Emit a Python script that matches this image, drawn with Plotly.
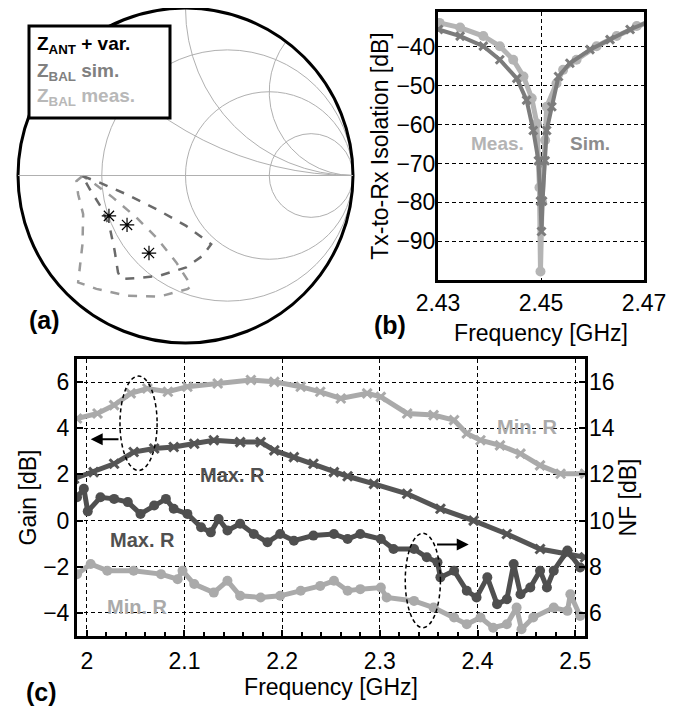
import plotly.graph_objects as go
import numpy as np

# ---------------- (a) Smith chart data (reflection coefficient) -------------
zbal_sim_gre = [-0.615, -0.512, -0.353, -0.155, 0.004, 0.153, 0.103, 0.004, -0.155, -0.274, -0.383, -0.403, -0.423, -0.452, -0.502, -0.571, -0.615]
zbal_sim_gim = [-0.003, -0.043, -0.112, -0.211, -0.301, -0.410, -0.479, -0.549, -0.598, -0.612, -0.618, -0.579, -0.449, -0.311, -0.192, -0.082, -0.003]
zbal_meas_gre = [-0.615, -0.651, -0.641, -0.611, -0.615, -0.641, -0.532, -0.353, -0.155, 0.014, 0.034, -0.055, -0.174, -0.293, -0.433, -0.552, -0.615]
zbal_meas_gim = [-0.003, -0.033, -0.112, -0.231, -0.410, -0.638, -0.677, -0.717, -0.723, -0.677, -0.658, -0.519, -0.370, -0.251, -0.132, -0.043, -0.003]
zant_gre = [-0.457, -0.349, -0.218]
zant_gim = [-0.241, -0.295, -0.463]

smith_r_grid = [1/3, 1, 3]
smith_x_grid = [0.5, 1, 2]

# ---------------- (b) isolation ----------------
meas_f = [2.4303, 2.4343, 2.4388, 2.4420, 2.4446, 2.4466, 2.4482, 2.4492, 2.4497, 2.4499, 2.4502, 2.4508, 2.4511, 2.4530, 2.4543, 2.4569, 2.4608, 2.4647, 2.4686, 2.4712]
meas_iso = [-33.8, -35.0, -37.2, -39.8, -43.3, -47.6, -53.2, -59.7, -76.2, -97.8, -80.0, -64.0, -55.4, -49.4, -45.9, -43.3, -39.8, -37.2, -34.6, -33.3]
sim_f = [2.4301, 2.4343, 2.4388, 2.4420, 2.4453, 2.4472, 2.4485, 2.4495, 2.4499, 2.4501, 2.4503, 2.4508, 2.4511, 2.4521, 2.4534, 2.4556, 2.4595, 2.4634, 2.4673, 2.4712]
sim_iso = [-35.5, -37.2, -39.8, -43.3, -48.1, -53.7, -61.5, -69.3, -79.7, -87.5, -79.7, -69.3, -61.5, -55.4, -47.6, -44.2, -40.7, -38.1, -35.5, -33.3]

# ---------------- (c) gain / NF ----------------
gain_min_f = [1.990, 2.011, 2.028, 2.045, 2.062, 2.083, 2.103, 2.134, 2.168, 2.192, 2.219, 2.239, 2.260, 2.287, 2.301, 2.328, 2.355, 2.376, 2.389, 2.403, 2.423, 2.444, 2.464, 2.485, 2.510]
gain_min = [4.42, 4.64, 5.00, 5.51, 5.72, 5.58, 5.80, 5.94, 6.09, 6.01, 5.80, 5.58, 5.29, 5.51, 5.36, 4.64, 4.57, 4.35, 3.77, 3.48, 3.26, 2.90, 2.39, 2.03, 2.03]
gain_max_f = [1.987, 2.007, 2.028, 2.048, 2.069, 2.089, 2.110, 2.130, 2.157, 2.178, 2.192, 2.212, 2.232, 2.253, 2.267, 2.294, 2.328, 2.362, 2.396, 2.430, 2.464, 2.492, 2.510]
gain_max = [1.81, 2.10, 2.46, 2.97, 3.12, 3.19, 3.33, 3.48, 3.40, 3.40, 3.04, 2.75, 2.46, 2.10, 1.92, 1.59, 1.16, 0.51, 0.00, -0.58, -1.23, -1.45, -1.59]
nf_max_f = [1.990, 1.997, 2.001, 2.014, 2.028, 2.042, 2.055, 2.069, 2.081, 2.089, 2.103, 2.117, 2.127, 2.135, 2.144, 2.157, 2.171, 2.185, 2.198, 2.212, 2.232, 2.253, 2.267, 2.280, 2.301, 2.314, 2.335, 2.348, 2.359, 2.362, 2.376, 2.389, 2.399, 2.410, 2.420, 2.430, 2.437, 2.444, 2.454, 2.464, 2.471, 2.478, 2.492, 2.505]
nf_max = [11.01, 11.38, 10.40, 11.01, 10.94, 10.80, 10.29, 10.65, 10.94, 10.51, 10.29, 9.71, 9.49, 10.07, 9.57, 9.86, 9.42, 9.06, 9.42, 9.13, 9.35, 9.42, 9.20, 9.42, 9.20, 8.77, 8.77, 8.41, 8.19, 7.54, 7.83, 6.96, 6.67, 7.54, 6.38, 6.59, 8.12, 6.81, 7.10, 7.83, 7.10, 7.83, 8.70, 7.97]
nf_min_f = [1.990, 2.004, 2.021, 2.048, 2.076, 2.093, 2.098, 2.110, 2.130, 2.144, 2.157, 2.178, 2.198, 2.219, 2.239, 2.253, 2.267, 2.280, 2.301, 2.307, 2.335, 2.355, 2.376, 2.389, 2.403, 2.416, 2.430, 2.440, 2.445, 2.457, 2.478, 2.492, 2.495, 2.505]
nf_min = [7.68, 8.12, 7.83, 7.83, 7.68, 7.46, 7.83, 7.25, 6.88, 7.39, 6.74, 6.67, 6.74, 6.96, 7.17, 7.39, 6.96, 7.03, 7.10, 6.67, 6.52, 6.23, 5.80, 5.51, 5.80, 5.36, 5.51, 6.23, 5.29, 5.80, 6.23, 6.09, 6.81, 5.87]

freq_ticks = [2.0, 2.1, 2.2, 2.3, 2.4, 2.5]
freq_ticktext = ["2", "2.1", "2.2", "2.3", "2.4", "2.5"]
gain_ticks = [-4, -2, 0, 2, 4, 6]
nf_ticks = [6, 8, 10, 12, 14, 16]
iso_ticks = [-90, -80, -70, -60, -50, -40]
iso_f_ticks = [2.43, 2.45, 2.47]

FONT = "Liberation Sans, Arial, sans-serif"
LIGHT = "#aaaaaa"
DARK = "#4f4f4f"
GRIDDASH = "4px,3px"

# page body has an 8px margin: figure drawn at (8, 8), size 682 x 708
OX, OY, W, H = 8, 8, 682, 708


def fx(px):
    return (px - OX) / W


def fy(py):
    return 1 - (py - OY) / H


def to_z(gre, gim):
    g = np.array(gre) + 1j * np.array(gim)
    z = (1 + g) / (1 - g)
    return z.real, z.imag


fig = go.Figure()

# ---- Smith chart traces
for gre, gim, col in [(zbal_meas_gre, zbal_meas_gim, "#9a9a9a"), (zbal_sim_gre, zbal_sim_gim, "#6a6a6a")]:
    zr, zi = to_z(gre, gim)
    fig.add_trace(go.Scattersmith(real=zr, imag=zi, mode="lines", subplot="smith",
                                  line=dict(color=col, width=2.5, dash="dash"), showlegend=False))
zr, zi = to_z(zant_gre, zant_gim)
fig.add_trace(go.Scattersmith(real=zr, imag=zi, mode="markers", subplot="smith",
                              marker=dict(symbol="asterisk-open", size=12, color="black",
                                          line=dict(color="black", width=1.2)), showlegend=False))

# ---- (b) isolation
fig.add_trace(go.Scatter(x=meas_f, y=meas_iso, mode="lines+markers", xaxis="x", yaxis="y",
                         line=dict(color="#b4b4b4", width=5),
                         marker=dict(symbol="circle", size=10, color="#b4b4b4"), showlegend=False))
fig.add_trace(go.Scatter(x=sim_f, y=sim_iso, mode="lines+markers", xaxis="x", yaxis="y",
                         line=dict(color="#7c7c7c", width=4),
                         marker=dict(symbol="x-thin-open", size=8, color="#7c7c7c",
                                     line=dict(color="#7c7c7c", width=3)), showlegend=False))

# ---- (c) gain / NF
fig.add_trace(go.Scatter(x=gain_min_f, y=gain_min, mode="lines+markers", xaxis="x2", yaxis="y2",
                         line=dict(color=LIGHT, width=5),
                         marker=dict(symbol="x-thin-open", size=9, color=LIGHT,
                                     line=dict(color=LIGHT, width=3)), showlegend=False))
fig.add_trace(go.Scatter(x=gain_max_f, y=gain_max, mode="lines+markers", xaxis="x2", yaxis="y2",
                         line=dict(color="#555555", width=5),
                         marker=dict(symbol="x-thin-open", size=9, color="#555555",
                                     line=dict(color="#555555", width=3)), showlegend=False))
fig.add_trace(go.Scatter(x=nf_max_f, y=nf_max, mode="lines+markers", xaxis="x2", yaxis="y3",
                         line=dict(color=DARK, width=5),
                         marker=dict(symbol="circle", size=10, color=DARK), showlegend=False))
fig.add_trace(go.Scatter(x=nf_min_f, y=nf_min, mode="lines+markers", xaxis="x2", yaxis="y3",
                         line=dict(color=LIGHT, width=5),
                         marker=dict(symbol="circle", size=10, color=LIGHT), showlegend=False))

axis_common = dict(showline=True, linecolor="black", linewidth=3, mirror=True, automargin=False,
                   showgrid=True, gridcolor="black", gridwidth=1, griddash=GRIDDASH,
                   zeroline=False, tickfont=dict(size=23, color="black", family=FONT))

fig.update_layout(
    width=W, height=H, margin=dict(l=0, r=0, t=0, b=0, autoexpand=False),
    paper_bgcolor="white", plot_bgcolor="white",
    font=dict(family=FONT, color="black"),
    smith=dict(
        domain=dict(x=[fx(18), fx(353)], y=[fy(343), 1.0]),
        bgcolor="white",
        realaxis=dict(tickvals=smith_r_grid, showticklabels=False, ticks="",
                      gridcolor="#b0b0b0", gridwidth=1, linecolor="#b0b0b0", linewidth=1),
        imaginaryaxis=dict(tickvals=smith_x_grid, showticklabels=False, ticks="",
                           gridcolor="#b0b0b0", gridwidth=1, linecolor="black", linewidth=3),
    ),
    xaxis=dict(domain=[fx(438), fx(644)], anchor="y", range=[2.43, 2.47],
               tickvals=iso_f_ticks, ticks="", ticklabelstandoff=0,
               title=dict(text="Frequency [GHz]", font=dict(size=23), standoff=11), **axis_common),
    yaxis=dict(domain=[fy(280), fy(12)], anchor="x", range=[-100, -31],
               tickvals=iso_ticks, ticks="", ticklabelstandoff=-5,
               title=dict(text="Tx-to-Rx Isolation [dB]", font=dict(size=23), standoff=2), **axis_common),
    xaxis2=dict(domain=[fx(77), fx(585)], anchor="y2", range=[1.99, 2.51],
                tickvals=freq_ticks, ticktext=freq_ticktext, ticks="inside", ticklen=6, tickwidth=2,
                tickcolor="black", ticklabelstandoff=2,
                minor=dict(dtick=0.02, tick0=2.0, ticks="inside", ticklen=4, tickwidth=1.5,
                           tickcolor="black", showgrid=False),
                title=dict(text="Frequency [GHz]", font=dict(size=23), standoff=6), **axis_common),
    yaxis2=dict(domain=[fy(636), fy(359)], anchor="x2", range=[-5, 7],
                tickvals=gain_ticks, ticks="inside", ticklen=6, tickwidth=2, tickcolor="black",
                ticklabelstandoff=0,
                title=dict(text="Gain [dB]", font=dict(size=23), standoff=1), **axis_common),
    yaxis3=dict(overlaying="y2", anchor="x2", side="right", range=[5, 17], tickvals=nf_ticks,
                ticks="inside", ticklen=6, tickwidth=2, tickcolor="black", showgrid=False,
                zeroline=False, showline=False, ticklabelstandoff=3, automargin=False,
                tickfont=dict(size=23, color="black", family=FONT),
                title=dict(text="NF [dB]", font=dict(size=23), standoff=6)),
)

# ---- legend box for (a)
fig.add_shape(type="rect", xref="paper", yref="paper",
              x0=fx(29), x1=fx(170), y0=fy(118), y1=fy(26),
              line=dict(color="black", width=3), fillcolor="white", layer="above")
leg_items = [("Z<sub>ANT</sub> + var.", "black", 45), ("Z<sub>BAL</sub> sim.", "#808080", 72),
             ("Z<sub>BAL</sub> meas.", "#b8b8b8", 97)]
for txt, col, yp in leg_items:
    fig.add_annotation(text="<b>" + txt + "</b>", xref="paper", yref="paper", x=fx(35), y=fy(yp),
                       xanchor="left", yanchor="middle", showarrow=False,
                       font=dict(size=19, color=col, family=FONT))

# ---- panel labels
for txt, px, py in [("(a)", 44, 320), ("(b)", 390, 325), ("(c)", 41, 692)]:
    fig.add_annotation(text="<b>" + txt + "</b>", xref="paper", yref="paper", x=fx(px), y=fy(py),
                       xanchor="center", yanchor="middle", showarrow=False,
                       font=dict(size=25, color="black", family=FONT))

# ---- (b) labels
fig.add_annotation(text="<b>Meas.</b>", x=2.4415, y=-64.9, xref="x", yref="y", showarrow=False,
                   font=dict(size=19, color="#b4b4b4", family=FONT))
fig.add_annotation(text="<b>Sim.</b>", x=2.4595, y=-64.9, xref="x", yref="y", showarrow=False,
                   font=dict(size=19, color="#8c8c8c", family=FONT))

# ---- (c) labels
for txt, xx, yy, col in [("Max. R", 2.149, 1.96, "#505050"), ("Max. R", 2.057, -0.83, "#505050"),
                         ("Min. R", 2.052, -3.74, LIGHT), ("Min. R", 2.451, 4.04, LIGHT)]:
    fig.add_annotation(text="<b>" + txt + "</b>", x=xx, y=yy, xref="x2", yref="y2", showarrow=False,
                       font=dict(size=20, color=col, family=FONT))

# ---- ellipses and arrows in (c)
fig.add_shape(type="circle", xref="x2", yref="y2", x0=2.034, x1=2.072, y0=2.17, y1=6.26,
              line=dict(color="black", width=1.5, dash="4px,3px"))
fig.add_shape(type="circle", xref="x2", yref="y2", x0=2.326, x1=2.362, y0=-4.64, y1=-0.55,
              line=dict(color="black", width=1.5, dash="4px,3px"))
fig.add_annotation(x=2.004, y=3.52, ax=2.034, ay=3.52, xref="x2", yref="y2", axref="x2", ayref="y2",
                   showarrow=True, arrowhead=2, arrowsize=1.2, arrowwidth=2, arrowcolor="black", text="")
fig.add_annotation(x=2.391, y=-1.04, ax=2.357, ay=-1.04, xref="x2", yref="y2", axref="x2", ayref="y2",
                   showarrow=True, arrowhead=2, arrowsize=1.2, arrowwidth=2, arrowcolor="black", text="")

fig.write_html("out.html")
